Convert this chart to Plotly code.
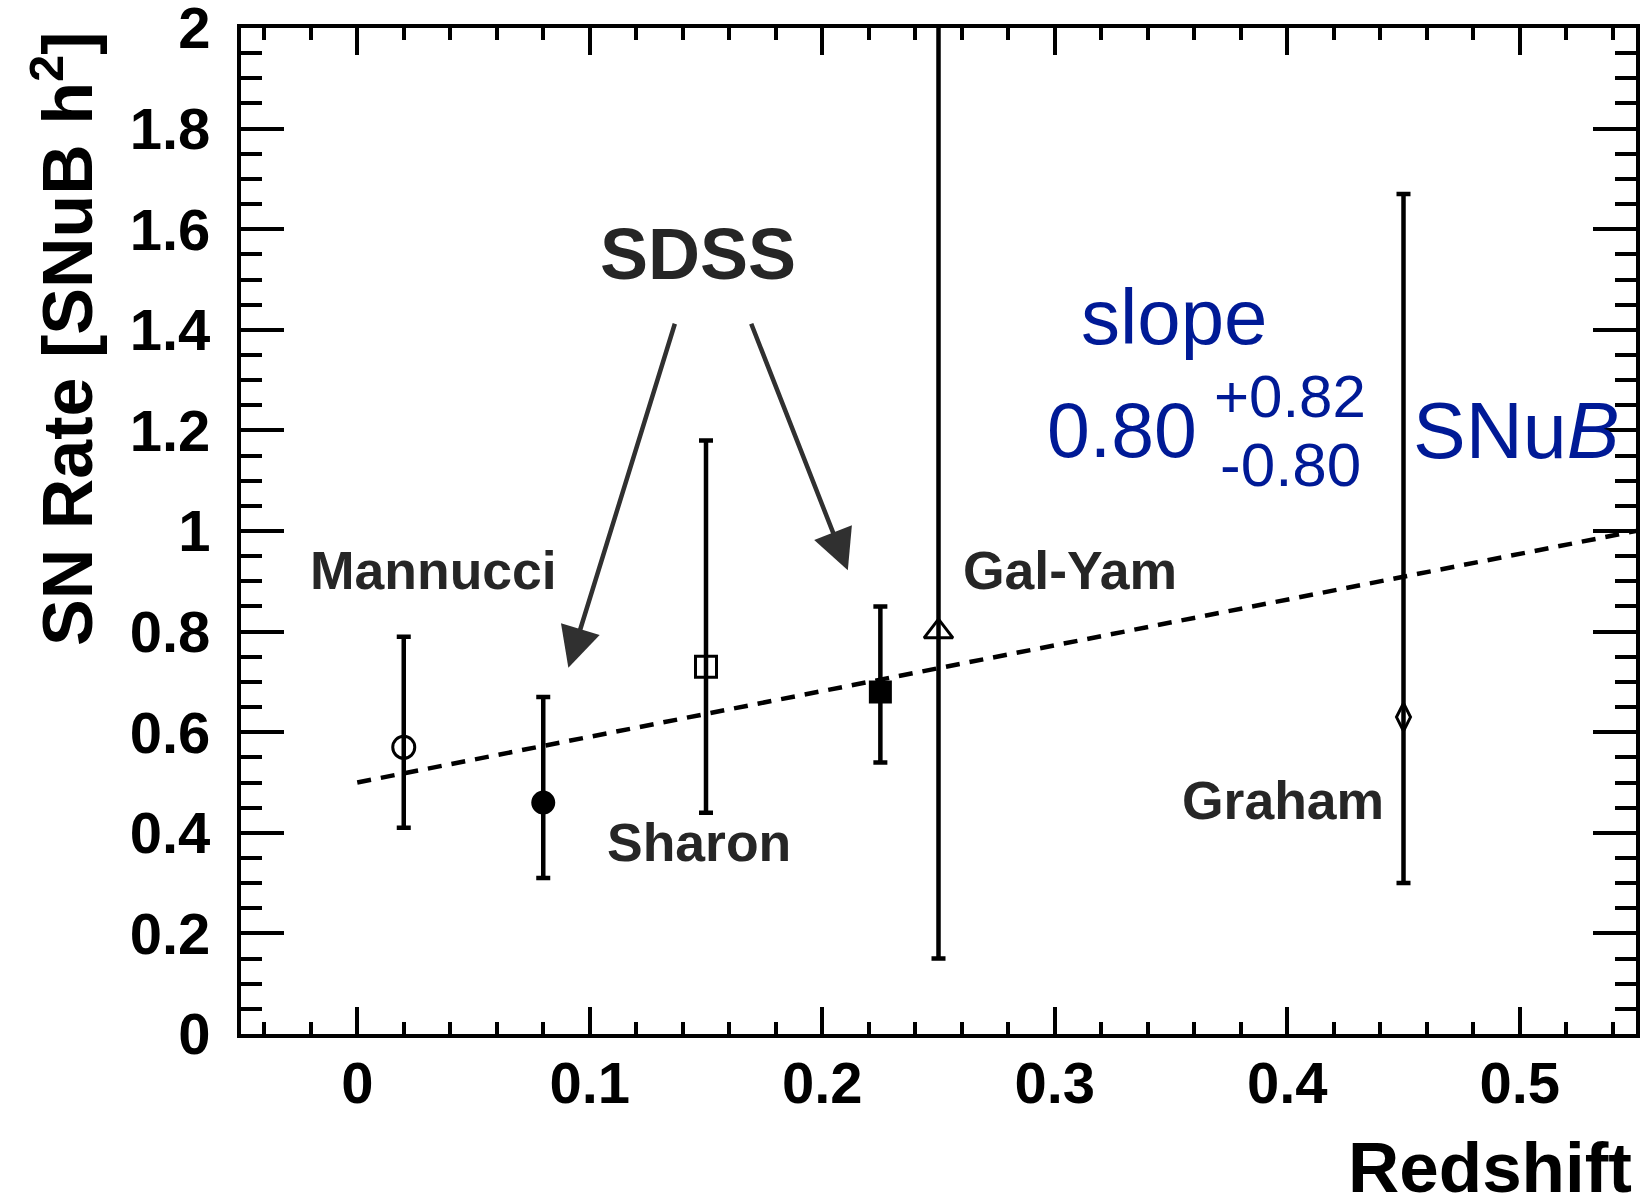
import plotly.graph_objects as go

# ---------------- data ----------------
labels = ["Mannucci", "SDSS", "Sharon", "SDSS", "Gal-Yam", "Graham"]
redshift = [0.02, 0.08, 0.15, 0.225, 0.25, 0.45]
rate = [0.57, 0.46, 0.73, 0.68, 0.80, 0.63]
err_plus = [0.22, 0.21, 0.45, 0.17, 1.50, 1.04]
err_minus = [0.16, 0.15, 0.29, 0.14, 0.65, 0.33]
symbols = ["circle-open", "circle", "square-open", "square", "triangle-up-open", "diamond-tall-open"]
sizes = [22, 21, 21, 20, 25, 20]

fit_x = [0.0, 0.55]
fit_y = [0.50, 1.00]

x_ticks = [0, 0.1, 0.2, 0.3, 0.4, 0.5]
y_ticks = [0, 0.2, 0.4, 0.6, 0.8, 1, 1.2, 1.4, 1.6, 1.8, 2]

FONT = "Liberation Sans, Arial, Helvetica, sans-serif"
BLUE = "#001a96"
GREY = "#262626"

fig = go.Figure()

fig.add_trace(go.Scatter(
    x=fit_x, y=fit_y, mode="lines",
    line=dict(color="black", width=4.5, dash="14px,10px"),
    showlegend=False, hoverinfo="skip"))

for i in range(len(redshift)):
    fig.add_trace(go.Scatter(
        x=[redshift[i]], y=[rate[i]], mode="markers", name=labels[i],
        marker=dict(symbol=symbols[i], size=sizes[i], color="black",
                    line=dict(color="black", width=3)),
        error_y=dict(type="data", symmetric=False,
                     array=[err_plus[i]], arrayminus=[err_minus[i]],
                     color="black", thickness=4.5, width=7),
        showlegend=False))

axis_common = dict(
    showline=True, linecolor="black", linewidth=4, mirror="ticks",
    ticks="inside", tickwidth=4, tickcolor="black", automargin=False,
    showgrid=False, zeroline=False, ticklabeloverflow="allow",
    tickfont=dict(family=FONT, size=58, color="black", weight="bold"),
)

fig.update_xaxes(
    range=[-0.05, 0.55], tickvals=x_ticks, ticktext=[f"{v:g}" for v in x_ticks],
    ticklen=27, ticklabelstandoff=-5,
    minor=dict(dtick=0.02, tick0=0, ticklen=12, tickwidth=4, ticks="inside", tickcolor="black"),
    **axis_common)
fig.update_yaxes(
    range=[0, 2], tickvals=y_ticks, ticktext=[f"{v:g}" for v in y_ticks],
    ticklen=43, ticklabelstandoff=15,
    minor=dict(dtick=0.05, tick0=0, ticklen=21, tickwidth=4, ticks="inside", tickcolor="black"),
    **axis_common)

ann = []
# axis titles
ann.append(dict(xref="paper", yref="paper", x=-0.128, y=0.999, xanchor="center", yanchor="top",
                textangle=-90, showarrow=False,
                text="<b>SN Rate [SNuB h<sup>2</sup>]</b>",
                font=dict(family=FONT, size=70, color="black")))
ann.append(dict(xref="paper", yref="paper", x=0.9985, y=-0.1332, xanchor="right", yanchor="middle",
                showarrow=False, text="<b>Redshift</b>",
                font=dict(family=FONT, size=71, color="black")))

def label(txt, x, y, size, color, bold=True):
    t = f"<b>{txt}</b>" if bold else txt
    ann.append(dict(xref="x", yref="y", x=x, y=y, text=t, showarrow=False,
                    xanchor="center", yanchor="middle",
                    font=dict(family=FONT, size=size, color=color)))

label("SDSS", 0.1467, 1.551, 72, GREY)
label("Mannucci", 0.0329, 0.922, 53.5, GREY)
label("Sharon", 0.1469, 0.381, 53.5, GREY)
label("Gal-Yam", 0.3067, 0.922, 53.5, GREY)
label("Graham", 0.3981, 0.464, 53.5, GREY)
label("slope", 0.3513, 1.425, 78, BLUE, bold=False)
label("0.80", 0.329, 1.2, 77, BLUE, bold=False)
label("+0.82", 0.4013, 1.267, 60, BLUE, bold=False)
label("-0.80", 0.4015, 1.132, 62, BLUE, bold=False)
label("SNu<i>B</i>", 0.4985, 1.2, 79, BLUE, bold=False)

# arrows from SDSS label to the SDSS points
for (tx, ty, hx, hy) in [(0.1368, 1.415, 0.0908, 0.728), (0.1692, 1.415, 0.211, 0.922)]:
    ann.append(dict(xref="x", yref="y", axref="x", ayref="y",
                    x=hx, y=hy, ax=tx, ay=ty, text="", showarrow=True,
                    arrowhead=2, arrowsize=1.8, arrowwidth=4.5, arrowcolor="#303030"))

fig.update_layout(
    width=1641, height=1197,
    margin=dict(l=241, r=5, t=28, b=163),
    plot_bgcolor="white", paper_bgcolor="white",
    annotations=ann,
)

fig.write_html("out.html")
